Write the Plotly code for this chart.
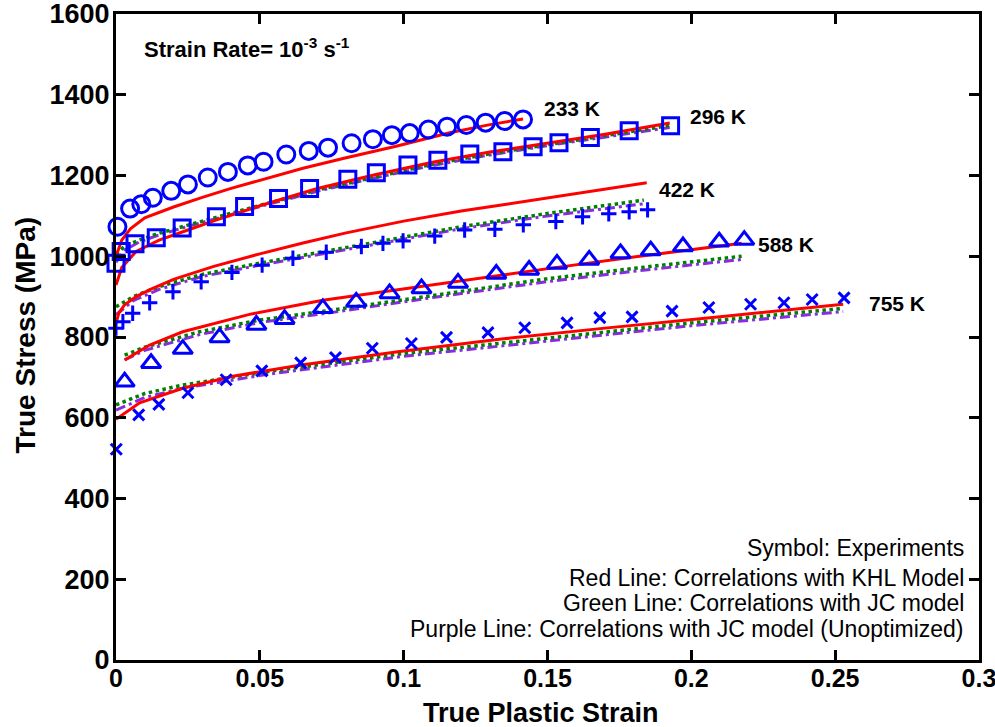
import plotly.graph_objects as go

# ---------------- data ----------------
# Experiments (symbols)
strain_233 = [0.0005, 0.0049, 0.0088, 0.0128, 0.0192, 0.0250, 0.0319, 0.0389, 0.0458, 0.0513, 0.0592, 0.0670,
              0.0737, 0.0819, 0.0893, 0.0959, 0.1021, 0.1086, 0.1151, 0.1218, 0.1285, 0.1351, 0.1415]
stress_233 = [1073, 1118, 1129, 1145, 1162, 1178, 1195, 1209, 1225, 1234, 1252, 1261,
              1269, 1280, 1290, 1300, 1305, 1314, 1321, 1325, 1331, 1335, 1339]

strain_296 = [0.0, 0.0018, 0.0066, 0.0140, 0.0230, 0.0349, 0.0447, 0.0565, 0.0673, 0.0806, 0.0905, 0.1015,
              0.1119, 0.1230, 0.1345, 0.1450, 0.1540, 0.1649, 0.1784, 0.1928]
stress_296 = [983, 1012, 1031, 1046, 1070, 1098, 1123, 1143, 1168, 1191, 1207, 1226,
              1238, 1253, 1259, 1271, 1281, 1294, 1311, 1323]

strain_422 = [0.0, 0.0024, 0.0058, 0.0117, 0.0198, 0.0296, 0.0403, 0.0508, 0.0615, 0.0731, 0.0853, 0.0928,
              0.0998, 0.1108, 0.1212, 0.1317, 0.1416, 0.1529, 0.1622, 0.1713, 0.1784, 0.1848]
stress_422 = [822, 838, 859, 885, 912, 937, 960, 978, 995, 1010, 1024, 1032,
              1038, 1050, 1065, 1067, 1078, 1086, 1098, 1105, 1110, 1115]

strain_588 = [0.003, 0.0122, 0.0232, 0.036, 0.0488, 0.0586, 0.0719, 0.0835, 0.0951, 0.1062, 0.1189, 0.1322,
              0.1436, 0.1533, 0.1645, 0.1754, 0.1859, 0.1971, 0.2097, 0.2184]
stress_588 = [689, 735, 770, 799, 830, 844, 871, 887, 908, 920, 934, 956,
              966, 981, 991, 1007, 1014, 1024, 1036, 1040]

strain_755 = [0.0001, 0.0079, 0.0149, 0.025, 0.0383, 0.0507, 0.0642, 0.0763, 0.0891, 0.1027, 0.1149, 0.1293,
              0.1421, 0.1568, 0.1682, 0.1794, 0.1933, 0.2061, 0.2206, 0.2322, 0.242, 0.2531]
stress_755 = [522, 607, 633, 662, 694, 716, 736, 749, 772, 784, 799, 811,
              823, 835, 848, 850, 864, 873, 881, 885, 893, 897]

# KHL model correlations (red)
khl_strain_233 = [0, 0.002, 0.005, 0.01, 0.02, 0.03, 0.04, 0.05, 0.065, 0.08, 0.097, 0.116, 0.13, 0.1415]
khl_stress_233 = [1000, 1040, 1068, 1095, 1122, 1146, 1168, 1188, 1218, 1244, 1272, 1306, 1326, 1340]

khl_strain_296 = [0, 0.002, 0.007, 0.015, 0.025, 0.035, 0.05, 0.07, 0.09, 0.11, 0.13, 0.15, 0.17, 0.1925]
khl_stress_296 = [929, 972, 1012, 1040, 1065, 1090, 1125, 1168, 1202, 1233, 1258, 1280, 1302, 1330]

khl_strain_422 = [0, 0.001, 0.003, 0.007, 0.012, 0.02, 0.034, 0.05, 0.065, 0.08, 0.1, 0.12, 0.134, 0.15, 0.17, 0.1845]
khl_stress_422 = [834, 860, 880, 900, 918, 943, 975, 1006, 1033, 1058, 1087, 1112, 1127, 1145, 1166, 1182]

khl_strain_588 = [0.003, 0.0117, 0.0232, 0.0464, 0.0719, 0.0963, 0.1218, 0.1508, 0.18, 0.2175]
khl_stress_588 = [743, 780, 813, 856, 891, 916, 941, 970, 998, 1032]

khl_strain_755 = [0, 0.0082, 0.0232, 0.0406, 0.0638, 0.0986, 0.134, 0.17, 0.21, 0.2528]
khl_stress_755 = [596, 637, 673, 703, 730, 764, 795, 822, 850, 881]

# JC model correlations (green, optimized) and (purple, unoptimized)
jc_strain_296 = [0, 0.003, 0.008, 0.015, 0.025, 0.035, 0.05, 0.07, 0.09, 0.11, 0.13, 0.15, 0.17, 0.1925]
jc_stress_296 = [1005, 1025, 1040, 1057, 1077, 1097, 1126, 1164, 1197, 1228, 1254, 1277, 1298, 1324]
jcu_stress_296 = [985, 1015, 1035, 1053, 1074, 1094, 1123, 1161, 1194, 1225, 1251, 1274, 1295, 1319]

jc_strain_422 = [0, 0.006, 0.015, 0.03, 0.05, 0.075, 0.1, 0.12, 0.15, 0.1835]
jc_stress_422 = [875, 900, 925, 955, 983, 1015, 1047, 1073, 1106, 1139]
jcu_stress_422 = [855, 890, 918, 950, 978, 1010, 1042, 1068, 1100, 1130]

jc_strain_588 = [0.003, 0.01, 0.029, 0.05, 0.0754, 0.1102, 0.1508, 0.18, 0.2175]
jc_stress_588 = [755, 775, 813, 842, 867, 904, 945, 970, 1000]
jcu_stress_588 = [743, 767, 806, 836, 861, 898, 938, 963, 992]

jc_strain_755 = [0, 0.01, 0.0232, 0.0522, 0.0986, 0.1508, 0.2, 0.2528]
jc_stress_755 = [632, 660, 681, 714, 758, 798, 835, 871]
jcu_stress_755 = [619, 650, 673, 707, 751, 791, 828, 863]

temp_labels = ["233 K", "296 K", "422 K", "588 K", "755 K"]
label_x = [0.148, 0.1988, 0.188, 0.2224, 0.2611]
label_y = [1367, 1345, 1166, 1030, 882]

legend_lines = ["Symbol: Experiments",
                "Red Line: Correlations with KHL Model",
                "Green Line: Correlations with JC model",
                "Purple Line: Correlations with JC model (Unoptimized)"]
legend_y = [277, 203, 141, 77]

x_ticks = [0, 0.05, 0.1, 0.15, 0.2, 0.25, 0.3]
x_tick_text = ["0", "0.05", "0.1", "0.15", "0.2", "0.25", "0.3"]
y_ticks = [0, 200, 400, 600, 800, 1000, 1200, 1400, 1600]
y_tick_text = ["0", "200", "400", "600", "800", "1000", "1200", "1400", "1600"]

# ---------------- styling ----------------
FONT = "Liberation Sans, Arial, Helvetica, sans-serif"
BLUE = "#0000FF"
RED = "#FF0000"
GREEN = "#008000"
PURPLE = "#8A2BE2"

fig = go.Figure()


def add_line(x, y, color, dash, width):
    fig.add_trace(go.Scatter(x=x, y=y, mode="lines", showlegend=False, hoverinfo="skip",
                             line=dict(color=color, dash=dash, width=width)))


def add_markers(x, y, symbol, size):
    fig.add_trace(go.Scatter(x=x, y=y, mode="markers", showlegend=False, cliponaxis=False,
                             marker=dict(symbol=symbol, size=size, color=BLUE,
                                         line=dict(color=BLUE, width=3))))


DASHDOT = "10px,4px,3px,4px"

for xs, ys_u, ys_g in [(jc_strain_296, jcu_stress_296, jc_stress_296),
                       (jc_strain_422, jcu_stress_422, jc_stress_422),
                       (jc_strain_588, jcu_stress_588, jc_stress_588),
                       (jc_strain_755, jcu_stress_755, jc_stress_755)]:
    add_line(xs, ys_u, PURPLE, DASHDOT, 3)
    add_line(xs, ys_g, GREEN, "dot", 3.5)

for xs, ys in [(khl_strain_233, khl_stress_233), (khl_strain_296, khl_stress_296),
               (khl_strain_422, khl_stress_422), (khl_strain_588, khl_stress_588),
               (khl_strain_755, khl_stress_755)]:
    add_line(xs, ys, RED, "solid", 3)

add_markers(strain_233, stress_233, "circle-open", 17)
add_markers(strain_296, stress_296, "square-open", 16)
add_markers(strain_422, stress_422, "cross-thin-open", 11)
add_markers(strain_588, stress_588, "triangle-up-open", 17)
add_markers(strain_755, stress_755, "x-thin-open", 11)

annotations = []
for t, x, y in zip(temp_labels, label_x, label_y):
    annotations.append(dict(x=x, y=y, xref="x", yref="y", text="<b>" + t + "</b>", showarrow=False,
                            xanchor="left", yanchor="middle", font=dict(family=FONT, size=21, color="black")))

for t, y in zip(legend_lines, legend_y):
    annotations.append(dict(x=0.2955, y=y, xref="x", yref="y", text=t, showarrow=False,
                            xanchor="right", yanchor="middle", font=dict(family=FONT, size=23, color="black")))

annotations.append(dict(x=0.0296, y=0.947, xref="paper", yref="paper",
                        text="<b>Strain Rate= 10<sup>-3</sup> s<sup>-1</sup></b>", showarrow=False,
                        xanchor="left", yanchor="middle", font=dict(family=FONT, size=22, color="black")))

annotations.append(dict(x=0.492, y=-0.082, xref="paper", yref="paper", text="<b>True Plastic Strain</b>",
                        showarrow=False, xanchor="center", yanchor="middle",
                        font=dict(family=FONT, size=27, color="black")))
annotations.append(dict(x=-0.105, y=0.503, xref="paper", yref="paper", text="<b>True Stress (MPa)</b>",
                        showarrow=False, xanchor="center", yanchor="middle", textangle=-90,
                        font=dict(family=FONT, size=28, color="black")))

axis_common = dict(showline=True, linewidth=3, linecolor="black", mirror="ticks", ticks="inside",
                   ticklen=10, tickwidth=2.5, tickcolor="black", showgrid=False, zeroline=False,
                   tickmode="array", ticklabeloverflow="allow", automargin=False)

fig.update_layout(
    width=995, height=727,
    margin=dict(l=116, r=16, t=14, b=67, autoexpand=False),
    plot_bgcolor="white", paper_bgcolor="white",
    xaxis=dict(range=[0, 0.30001], tickvals=x_ticks, ticktext=x_tick_text, ticklabelstandoff=-6,
               tickfont=dict(family=FONT, size=25, color="black", weight="bold"), **axis_common),
    yaxis=dict(range=[0, 1600.05], tickvals=y_ticks, ticktext=y_tick_text, ticklabelstandoff=-2,
               tickfont=dict(family=FONT, size=27, color="black", weight="bold"), **axis_common),
    annotations=annotations,
    showlegend=False,
)

fig.write_html("out.html")
